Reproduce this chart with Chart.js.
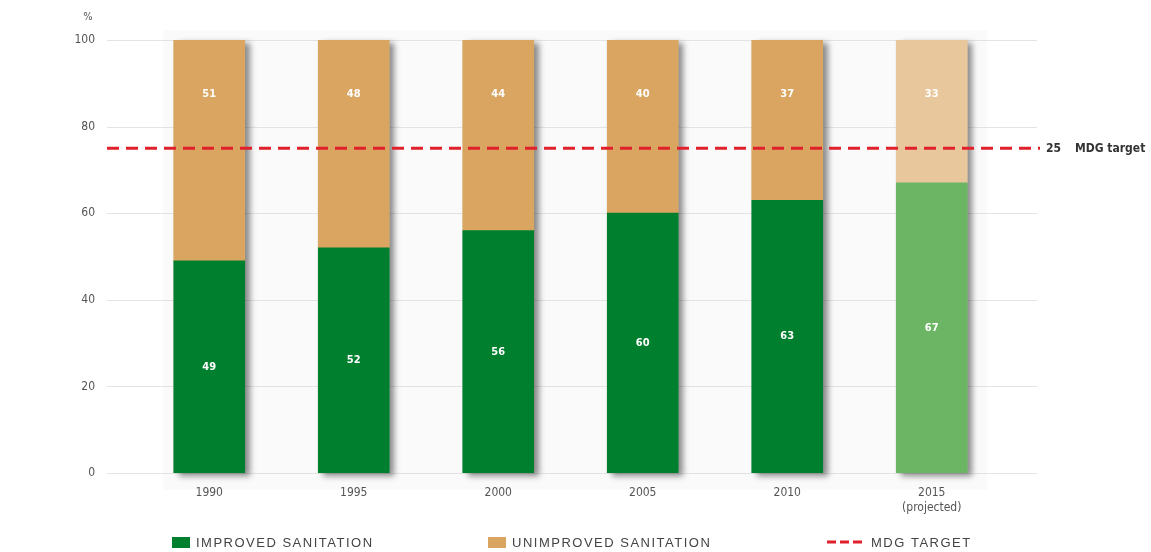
<!DOCTYPE html>
<html>
<head>
<meta charset="utf-8">
<script src="https://cdn.jsdelivr.net/npm/chart.js@4/dist/chart.umd.min.js"></script>
<style>
html,body{margin:0;padding:0;background:#fff;}
#wrap{width:1151px;height:552px;}
</style>
</head>
<body>
<div id="wrap"><canvas id="c" width="1151" height="552"></canvas></div>
<script>
const categories = ['1990', '1995', '2000', '2005', '2010', ['2015', '(projected)']];
const improved = [49, 52, 56, 60, 63, 67];
const unimproved = [51, 48, 44, 40, 37, 33];
const mdgTarget = 75;
const mdgGapLabel = '25';
const yTicks = [0, 20, 40, 60, 80, 100];
const unimprovedLabelLevel = 87.5;

const GREEN = '#007f2e', GREEN_P = '#6bb564';
const TAN = '#d9a560', TAN_P = '#e8c79c';
const RED = '#e0202b';
const COND = '"Liberation Sans Narrow", "DejaVu Sans Condensed", "Roboto Condensed", sans-serif';

const decor = {
  id: 'decor',
  beforeDraw(chart) {
    const ctx = chart.ctx, y = chart.scales.y;
    ctx.save();
    ctx.fillStyle = '#fafafa';
    ctx.fillRect(163, 30, 824, 460);
    ctx.strokeStyle = '#e3e3e3';
    ctx.lineWidth = 1;
    yTicks.forEach(v => {
      const py = Math.round(y.getPixelForValue(v)) + 0.5;
      ctx.beginPath(); ctx.moveTo(107, py); ctx.lineTo(1037, py); ctx.stroke();
    });
    ctx.restore();
  },
  beforeDatasetsDraw(chart) {
    const ctx = chart.ctx;
    const m0 = chart.getDatasetMeta(0), m1 = chart.getDatasetMeta(1);
    ctx.save();
    ctx.shadowColor = 'rgba(0,0,0,0.45)';
    ctx.shadowBlur = 6;
    ctx.shadowOffsetX = 5;
    ctx.shadowOffsetY = 3;
    ctx.fillStyle = '#cccccc';
    m0.data.forEach((el, i) => {
      const top = m1.data[i].y, bottom = el.base;
      ctx.fillRect(el.x - el.width / 2, top, el.width, bottom - top);
    });
    ctx.restore();
  },
  afterDatasetsDraw(chart) {
    const ctx = chart.ctx, y = chart.scales.y;
    const m0 = chart.getDatasetMeta(0);
    ctx.save();
    ctx.fillStyle = '#ffffff';
    ctx.font = 'bold 11px ' + COND;
    ctx.textAlign = 'center';
    ctx.textBaseline = 'middle';
    m0.data.forEach((el, i) => {
      ctx.fillText(String(improved[i]), el.x, y.getPixelForValue(improved[i] / 2));
      ctx.fillText(String(unimproved[i]), el.x, y.getPixelForValue(unimprovedLabelLevel));
    });
    // MDG target line
    const py = y.getPixelForValue(mdgTarget);
    ctx.strokeStyle = RED;
    ctx.lineWidth = 3;
    ctx.setLineDash([12, 7]);
    ctx.beginPath(); ctx.moveTo(107, py); ctx.lineTo(1040, py); ctx.stroke();
    ctx.setLineDash([]);
    ctx.fillStyle = '#333333';
    ctx.textAlign = 'left';
    ctx.font = 'bold 12px ' + COND;
    ctx.fillText(mdgGapLabel, 1046, py + 1);
    ctx.fillText('MDG target', 1075, py + 1);
    // % unit
    ctx.fillStyle = '#555555';
    ctx.font = '11px ' + COND;
    ctx.textAlign = 'center';
    ctx.fillText('%', 88, 17);
    ctx.restore();
  },
  afterDraw(chart) {
    const ctx = chart.ctx;
    ctx.save();
    ctx.font = '13px "Liberation Sans", Arial, sans-serif';
    ctx.letterSpacing = '1.5px';
    ctx.textBaseline = 'middle';
    ctx.textAlign = 'left';
    const ly = 542;
    ctx.fillStyle = GREEN; ctx.fillRect(172, ly - 5, 18, 11);
    ctx.fillStyle = '#444444'; ctx.fillText('IMPROVED SANITATION', 196, ly + 1);
    ctx.fillStyle = TAN; ctx.fillRect(488, ly - 5, 18, 11);
    ctx.fillStyle = '#444444'; ctx.fillText('UNIMPROVED SANITATION', 512, ly + 1);
    ctx.strokeStyle = RED; ctx.lineWidth = 3; ctx.setLineDash([9, 4]);
    ctx.beginPath(); ctx.moveTo(827, ly); ctx.lineTo(862, ly); ctx.stroke();
    ctx.setLineDash([]);
    ctx.fillStyle = '#444444'; ctx.fillText('MDG TARGET', 871, ly + 1);
    ctx.restore();
  }
};

new Chart(document.getElementById('c'), {
  type: 'bar',
  data: {
    labels: categories,
    datasets: [
      { label: 'IMPROVED SANITATION', data: improved,
        backgroundColor: improved.map((_, i) => i === improved.length - 1 ? GREEN_P : GREEN) },
      { label: 'UNIMPROVED SANITATION', data: unimproved,
        backgroundColor: unimproved.map((_, i) => i === unimproved.length - 1 ? TAN_P : TAN) }
    ]
  },
  options: {
    responsive: false,
    animation: false,
    layout: { padding: { top: 40, right: 147, bottom: 0, left: 0 } },
    datasets: { bar: { barThickness: 71, borderWidth: 0 } },
    plugins: { legend: { display: false }, tooltip: { enabled: false } },
    scales: {
      x: {
        stacked: true,
        grid: { display: false, drawTicks: false },
        border: { display: false },
        ticks: { color: '#555555', font: { family: COND, size: 12 }, padding: 13, maxRotation: 0 },
        afterFit(s) { s.height = 79; s.paddingLeft = 0; s.paddingRight = 0; }
      },
      y: {
        stacked: true, min: 0, max: 100,
        grid: { display: false, drawTicks: false },
        border: { display: false },
        ticks: { stepSize: 20, color: '#555555', font: { family: COND, size: 12 }, padding: 42 },
        afterFit(s) { s.width = 137; s.paddingTop = 0; s.paddingBottom = 0; }
      }
    }
  },
  plugins: [decor]
});
</script>
</body>
</html>
